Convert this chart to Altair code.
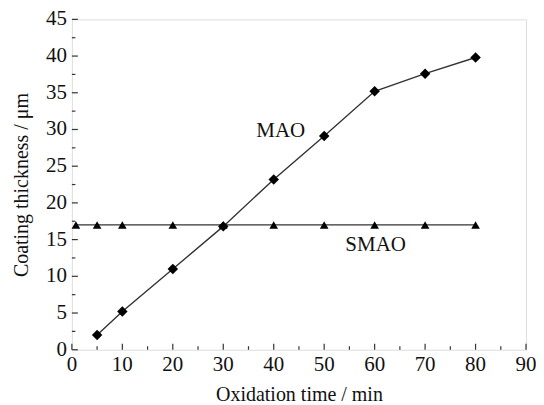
import altair as alt
import pandas as pd

# Data
mao_time = [5, 10, 20, 30, 40, 50, 60, 70, 80]
mao_thick = [2.0, 5.2, 11.0, 16.8, 23.2, 29.1, 35.2, 37.6, 39.8]
smao_time = [0.8, 5, 10, 20, 30, 40, 50, 60, 70, 80]
smao_thick = [17.0, 17.0, 17.0, 17.0, 17.0, 17.0, 17.0, 17.0, 17.0, 17.0]

label_text = ["MAO", "SMAO"]
label_x = [41.4, 60.2]
label_y = [29.8, 14.2]

x_major = [0, 10, 20, 30, 40, 50, 60, 70, 80, 90]
x_minor = [5, 15, 25, 35, 45, 55, 65, 75, 85]
y_major = [0, 5, 10, 15, 20, 25, 30, 35, 40, 45]
y_minor = [2.5, 7.5, 12.5, 17.5, 22.5, 27.5, 32.5, 37.5, 42.5]

FONT = "Liberation Serif"
W, H = 455, 331

mao = pd.DataFrame({"t": mao_time, "d": mao_thick})
smao = pd.DataFrame({"t": smao_time, "d": smao_thick})
labels = pd.DataFrame({"text": label_text, "t": label_x, "d": label_y})
xmaj_df = pd.DataFrame({"v": x_major, "s": [str(v) for v in x_major]})
ymaj_df = pd.DataFrame({"v": y_major, "s": [str(v) for v in y_major]})

xs = alt.Scale(domain=[0, 90], nice=False, zero=False)
ys = alt.Scale(domain=[0, 45], nice=False, zero=False)

x_axis = alt.Axis(values=x_major, labels=False, ticks=False, domain=False, grid=False,
                  title="Oxidation time / min", titlePadding=35)
y_axis = alt.Axis(values=y_major, labels=False, ticks=False, domain=False, grid=False,
                  title="Coating thickness / μm", titlePadding=40)

mao_line = alt.Chart(mao).mark_line(color="#333", strokeWidth=1.4).encode(
    x=alt.X("t:Q", scale=xs, axis=x_axis),
    y=alt.Y("d:Q", scale=ys, axis=y_axis),
)
mao_pts = alt.Chart(mao).mark_point(shape="diamond", filled=True, color="black", size=110, opacity=1).encode(
    x=alt.X("t:Q", scale=xs, axis=x_axis), y=alt.Y("d:Q", scale=ys, axis=y_axis))
smao_line = alt.Chart(smao).mark_line(color="#333", strokeWidth=1.4).encode(
    x=alt.X("t:Q", scale=xs, axis=x_axis), y=alt.Y("d:Q", scale=ys, axis=y_axis))
smao_pts = alt.Chart(smao).mark_point(shape="triangle-up", filled=True, color="black", size=75, opacity=1).encode(
    x=alt.X("t:Q", scale=xs, axis=x_axis), y=alt.Y("d:Q", scale=ys, axis=y_axis))
txt = alt.Chart(labels).mark_text(font=FONT, fontSize=21, color="#111").encode(
    x=alt.X("t:Q", scale=xs, axis=x_axis), y=alt.Y("d:Q", scale=ys, axis=y_axis), text="text:N")

# inward ticks
xmaj = alt.Chart(xmaj_df).mark_rule(color="#333", strokeWidth=1.2).encode(
    x=alt.X("v:Q", scale=xs, axis=x_axis), y=alt.value(H), y2=alt.value(H - 6))
xmin = alt.Chart(pd.DataFrame({"v": x_minor})).mark_rule(color="#333", strokeWidth=1.2).encode(
    x=alt.X("v:Q", scale=xs, axis=x_axis), y=alt.value(H), y2=alt.value(H - 3.5))
ymaj = alt.Chart(ymaj_df).mark_rule(color="#333", strokeWidth=1.2).encode(
    y=alt.Y("v:Q", scale=ys, axis=y_axis), x=alt.value(0), x2=alt.value(6))
ymin = alt.Chart(pd.DataFrame({"v": y_minor})).mark_rule(color="#333", strokeWidth=1.2).encode(
    y=alt.Y("v:Q", scale=ys, axis=y_axis), x=alt.value(0), x2=alt.value(3.5))

# tick labels
xlab = alt.Chart(xmaj_df).mark_text(font=FONT, fontSize=21, color="#111", baseline="top", dy=4).encode(
    x=alt.X("v:Q", scale=xs, axis=x_axis), y=alt.value(H), text="s:N")
ylab = alt.Chart(ymaj_df).mark_text(font=FONT, fontSize=21, color="#111", align="right", baseline="middle", dx=-5).encode(
    y=alt.Y("v:Q", scale=ys, axis=y_axis), x=alt.value(0), text="s:N")

chart = alt.layer(mao_line, smao_line, xmaj, xmin, ymaj, ymin, smao_pts, mao_pts, txt, xlab, ylab).properties(
    width=W, height=H,
    padding={"left": 64, "top": 11, "right": 10, "bottom": 56},
    autosize=alt.AutoSizeParams(type="none"),
).configure_view(stroke="#555", strokeWidth=1.6).configure(background="white", font=FONT).configure_axis(
    titleFont=FONT, titleFontSize=20, titleFontWeight="normal", titleColor="#111",
)

chart.save("out.html", embed_options={"renderer": "svg", "actions": False})
